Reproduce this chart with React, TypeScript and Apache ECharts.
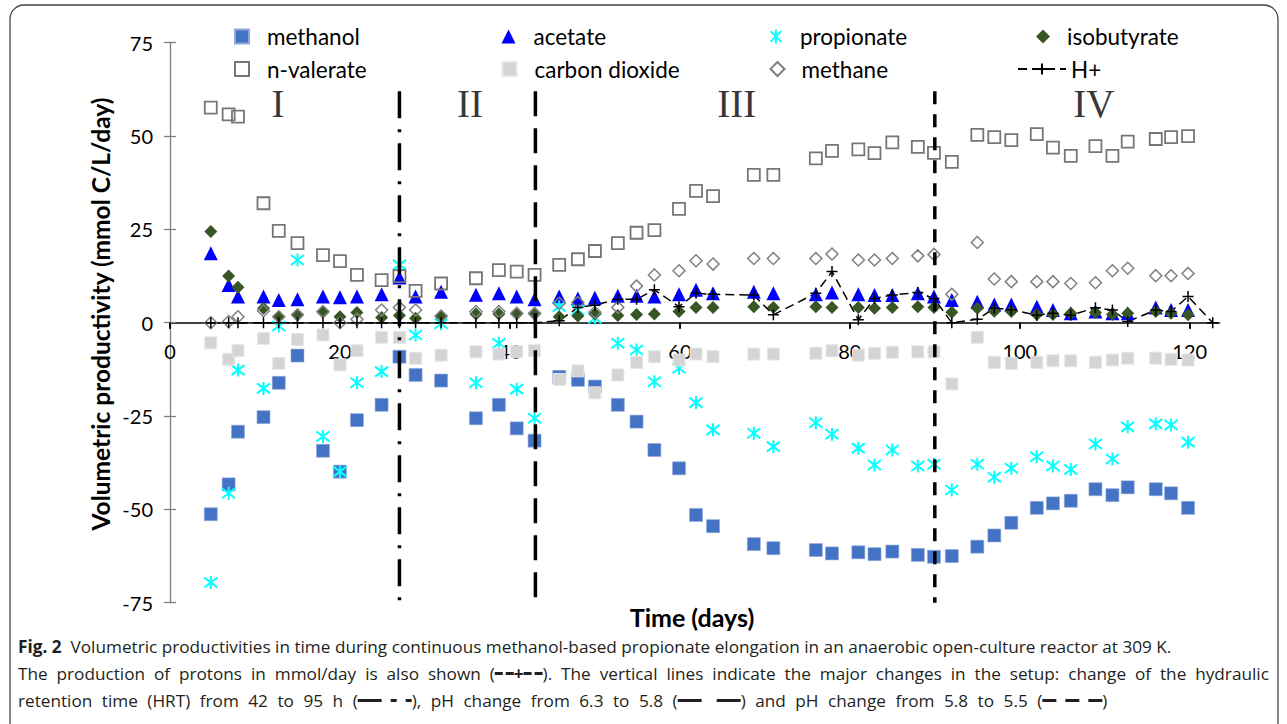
import React, { useEffect, useRef } from "react";
import * as echarts from "echarts";

// ---------- data ----------
const DAYS = [4.8, 6.9, 8, 11, 12.8, 15, 18, 20, 22, 24.9, 27, 28.9, 31.9, 36, 38.7, 40.8, 42.9, 45.8, 48, 50, 52.7, 54.9, 57, 59.9, 61.9, 63.9, 68.7, 71, 76, 77.9, 81, 82.9, 85, 88, 89.9, 92, 95, 97, 99, 102, 103.9, 106, 108.9, 110.9, 112.7, 116, 117.8, 119.8];
const METHANOL = [-51.3, -43.3, -29.2, -25.3, -16.1, -8.8, -34.3, -39.9, -26.1, -22, -9.1, -14, -15.5, -25.6, -22, -28.3, -31.6, -14.5, -15.3, -17.1, -22, -26.5, -34.1, -39, -51.5, -54.5, -59.3, -60.4, -60.9, -61.8, -61.5, -62, -61.3, -62.2, -62.7, -62.5, -60, -57, -53.6, -49.6, -48.4, -47.7, -44.6, -46.2, -44.1, -44.6, -45.7, -49.6];
const ACETATE = [18.6, 10.1, 7.0, 7.0, 6.1, 6.3, 7.0, 6.8, 7.0, 7.6, 12.1, 7.0, 8.3, 7.5, 7.9, 7.0, 6.3, 7.0, 6.5, 6.7, 7.2, 7.2, 7.0, 7.6, 8.8, 7.9, 8.3, 7.9, 7.6, 8.1, 7.6, 7.4, 7.4, 7.9, 7.0, 6.1, 5.6, 4.9, 4.9, 4.3, 3.4, 2.5, 3.0, 2.5, 2.5, 4.1, 3.4, 3.4];
const PROPIONATE = [-69.6, -45.7, -12.7, -17.6, -0.9, 16.8, -30.5, -39.9, -16.1, -13.1, 15.5, -3.3, -0.3, -16.1, -5.5, -17.8, -25.6, 4.3, 3.4, 1.2, -5.5, -7.3, -15.8, -12.2, -21.4, -28.7, -29.6, -33.2, -26.8, -29.9, -33.6, -38.1, -34.1, -38.4, -37.9, -44.8, -37.9, -41.4, -39.0, -35.9, -38.4, -39.3, -32.5, -36.5, -27.9, -27.1, -27.4, -32.0];
const ISOBUTYRATE = [24.4, 12.5, 9.5, 3.9, 1.6, 2.1, 2.8, 1.6, 2.7, 1.4, 1.9, 1.2, 1.6, 2.3, 2.3, 2.3, 2.3, 1.6, 1.8, 2.3, 1.9, 2.2, 2.3, 3.0, 4.1, 4.1, 4.3, 4.1, 4.3, 4.1, 4.1, 3.9, 4.1, 4.3, 4.1, 2.8, 3.9, 3.1, 3.0, 2.2, 2.2, 2.5, 2.7, 2.2, 2.5, 3.0, 2.5, 2.1];
const N_VALERATE = [57.6, 55.8, 55.2, 32.0, 24.6, 21.3, 18.1, 16.5, 12.8, 11.4, 12.5, 8.5, 10.5, 11.9, 14.1, 13.7, 12.8, 15.5, 17.0, 19.2, 21.3, 24.1, 24.8, 30.5, 35.3, 33.9, 39.6, 39.6, 44.0, 46.0, 46.4, 45.4, 48.3, 47.1, 45.5, 43.1, 50.3, 49.7, 48.9, 50.5, 46.9, 44.7, 47.3, 44.7, 48.5, 49.2, 49.7, 50.0];
const CARBON_DIOXIDE = [-5.4, -9.8, -7.5, -4.2, -10.9, -4.5, -3.3, -11.3, -7.5, -3.9, -3.9, -9.5, -8.7, -7.8, -8.4, -7.8, -7.5, -15.2, -12.9, -18.8, -14.0, -10.6, -9.1, -10.0, -8.4, -9.1, -8.4, -8.4, -8.2, -7.5, -8.7, -8.2, -7.9, -7.8, -7.8, -16.4, -3.9, -10.6, -10.9, -10.6, -10.2, -10.2, -10.6, -10.0, -9.5, -9.5, -9.8, -10.0];
const METHANE = [0, 0.3, 1.6, 3.2, 1.6, 2.1, 3.0, 0, 0.9, 3.4, 4.1, 3.4, 1.8, 3.0, 3.0, 2.5, 2.5, 5.2, 5.4, 2.8, 4.1, 9.8, 12.8, 13.9, 16.6, 15.7, 17.2, 17.2, 17.2, 18.4, 16.8, 16.8, 17.2, 17.9, 18.3, 7.6, 21.5, 11.7, 11.0, 11.0, 11.0, 10.5, 10.7, 13.9, 14.6, 12.6, 12.6, 13.2];
const H_DAYS = [...DAYS, 122.7];
const H_PLUS = [0, 0, 0, 0, 0, 0, 0, 0, 0, 0, 0, 0, 0, 0, 0, 0, 0, 0.5, 4.1, 4.7, 6.3, 6.3, 8.8, 4.3, 7.9, 7.6, 7.4, 2.1, 7.9, 13.7, 0.8, 6.5, 7.4, 8.1, 6.5, 0, 0.9, 3.9, 3.5, 2.0, 2.5, 2.0, 4.0, 3.4, 0.3, 3.4, 3.0, 7.0, 0];

const PHASE_CHANGE_DAYS = [27, 43, 90];
const PHASE_LINE_TOP = 62;
const PHASE_LINE_BOTTOM = -75;
const PHASE_LABELS = ["I", "II", "III", "IV"];
const PHASE_LABEL_DAYS = [12.7, 35.3, 66.7, 108.7];
const PHASE_LABEL_VALUE = 58.7;

const X_TICKS = [0, 20, 40, 60, 80, 100, 120];
const X_MAX = 123.5;
const Y_MIN = -75;
const Y_MAX = 75;
const Y_STEP = 25;

// ---------- styles ----------
const FONT = "Lato, 'Noto Sans', sans-serif";
const CAP_FONT = "'Open Sans', 'Noto Sans', sans-serif";
const CAP_COLOR = "#231F20";
const ASTERISK = "path://M1,1L11,11M11,1L1,11M6,-0.5L6,12.5";
const PLUS = "path://M6,0L6,12M0,6L12,6";

const pts = (ys: number[]) => DAYS.map((d, i) => [d, ys[i]]);

// turn plain words into rich tokens whose spaces have a given token style
const spaced = (text: string, sp: string) => "{t|" + text.split(" ").join("}{" + sp + "| }{t|") + "}";

function buildOption() {
  const scatter = (name: string, ys: number[], symbol: string, size: number, itemStyle: any) => ({
    name,
    type: "scatter",
    data: pts(ys),
    symbol,
    symbolSize: size,
    itemStyle: { opacity: 1, ...itemStyle },
    emphasis: { disabled: true },
    z: 2,
  });

  const series: any[] = [
    scatter("methanol", METHANOL, "rect", 13, { color: "#4472C4", borderColor: "#8EA9DB", borderWidth: 0.6 }),
    scatter("acetate", ACETATE, "triangle", 14, { color: "#0000FF" }),
    scatter("propionate", PROPIONATE, ASTERISK, 13, { color: "#00FFFF", borderColor: "#00FFFF", borderWidth: 2 }),
    scatter("isobutyrate", ISOBUTYRATE, "diamond", 13, { color: "#375623" }),
    scatter("n-valerate", N_VALERATE, "rect", 12, { color: "rgba(255,255,255,0)", borderColor: "#767676", borderWidth: 1.8 }),
    scatter("carbon dioxide", CARBON_DIOXIDE, "rect", 12, { color: "#D4D4D4", borderColor: "#E6E6E6", borderWidth: 1 }),
    scatter("methane", METHANE, "diamond", 12, { color: "rgba(255,255,255,0)", borderColor: "#808080", borderWidth: 1.5 }),
    {
      name: "H+",
      type: "line",
      data: H_DAYS.map((d, i) => [d, H_PLUS[i]]),
      symbol: PLUS,
      symbolSize: 11,
      showSymbol: true,
      lineStyle: { color: "#000", width: 1.5, type: [9, 5] },
      itemStyle: { color: "#000", borderColor: "#000", borderWidth: 1.5 },
      emphasis: { disabled: true },
      z: 2,
    },
  ];

  const dashes = [[27, 11, 3, 11], [25, 12], [13, 10]];
  PHASE_CHANGE_DAYS.forEach((d, i) => {
    series.push({
      name: "phase" + i,
      type: "line",
      data: [[d, PHASE_LINE_TOP], [d, PHASE_LINE_BOTTOM]],
      symbol: "none",
      lineStyle: { color: "#000", width: 3.5, type: dashes[i] },
      silent: true,
      z: 4,
    });
  });

  series.push({
    name: "phases",
    type: "scatter",
    data: PHASE_LABELS.map((t, i) => [PHASE_LABEL_DAYS[i], PHASE_LABEL_VALUE, t]),
    symbol: "circle",
    symbolSize: 1,
    itemStyle: { color: "rgba(0,0,0,0)" },
    label: {
      show: true,
      position: "inside",
      formatter: (p: any) => p.data[2],
      fontFamily: "'Liberation Serif', serif",
      fontSize: 39,
      lineHeight: 30,
      color: "#000",
    },
    silent: true,
    z: 3,
  });

  const legendItem = (name: string, left: number, top: number, pad: number, width = 14) => ({
    data: [name],
    left,
    top,
    itemWidth: width,
    itemHeight: 14,
    selectedMode: false,
    textStyle: { fontFamily: FONT, fontSize: 22.5, color: "#000", padding: [0, 0, 0, pad] },
  });

  const R1 = 20;
  const R2 = 52.5;
  const legend = [
    legendItem("methanol", 229, R1, 13),
    legendItem("acetate", 496.5, R1, 13),
    legendItem("propionate", 764.5, R1, 12),
    legendItem("isobutyrate", 1031, R1, 12),
    legendItem("n-valerate", 229, R2, 13),
    legendItem("carbon dioxide", 496.5, R2, 13),
    legendItem("methane", 764.5, R2, 12),
    legendItem("H+", 1012, R2, 0, 48),
  ];

  const capText = (size: number, bold = false) => ({
    fontFamily: CAP_FONT,
    fontSize: size,
    fontWeight: bold ? "bold" : "normal",
    fill: CAP_COLOR,
    verticalAlign: "middle",
  });
  const bar = (w: number) => ({ width: w, height: 3, backgroundColor: CAP_COLOR, verticalAlign: "middle" });
  const gap = (w: number) => ({ width: w, verticalAlign: "middle" });
  const CAP_SIZE = 17.2;
  const rich: any = {
    t: capText(CAP_SIZE),
    b: capText(CAP_SIZE, true),
    p: capText(CAP_SIZE, true),
    d: bar(8),
    L: bar(24),
    M: bar(14),
    s: bar(6),
    g2: gap(3),
    g8: gap(9),
    g12: gap(15),
    sp2: gap(8.9),
    sp3: gap(9.5),
  };
  const capLine = (text: string, y: number) => ({
    type: "text",
    left: 18,
    top: y - 12,
    silent: true,
    style: { text, rich, ...capText(CAP_SIZE) },
  });

  const line1 = "{b|Fig. 2}{t|  Volumetric productivities in time during continuous methanol-based propionate elongation in an anaerobic open-culture reactor at 309 K.}";
  const line2 =
    spaced("The production of protons in mmol/day is also shown (", "sp2") +
    "{d| }{g2| }{d| }{p|+}{d| }{g2| }{d| }" +
    spaced("). The vertical lines indicate the major changes in the setup: change of the hydraulic", "sp2");
  const line3 =
    spaced("retention time (HRT) from 42 to 95 h (", "sp3") +
    "{L| }{g8| }{s| }{g8| }{s| }" +
    spaced("), pH change from 6.3 to 5.8 (", "sp3") +
    "{L| }{g12| }{L| }" +
    spaced(") and pH change from 5.8 to 5.5 (", "sp3") +
    "{M| }{g8| }{M| }{g8| }{M| }{t|)}";

  const graphic: any[] = [
    {
      type: "rect",
      shape: { x: 10, y: 5, width: 1268, height: 745, r: 14 },
      style: { fill: "none", stroke: "#444", lineWidth: 1.3 },
      silent: true,
    },
    {
      type: "text",
      x: 692,
      y: 617,
      silent: true,
      style: {
        text: "Time (days)",
        fontFamily: FONT,
        fontSize: 25,
        fontWeight: "bold",
        fill: "#000",
        align: "center",
        verticalAlign: "middle",
      },
    },
    {
      type: "text",
      x: 100,
      y: 314,
      rotation: Math.PI / 2,
      silent: true,
      style: {
        text: "Volumetric productivity (mmol C/L/day)",
        fontFamily: FONT,
        fontSize: 24.5,
        fontWeight: "bold",
        fill: "#000",
        align: "center",
        verticalAlign: "middle",
      },
    },
    capLine(line1, 650),
    capLine(line2, 677),
    capLine(line3, 704),
  ];

  return {
    animation: false,
    backgroundColor: "#fff",
    grid: { left: 170, right: 67.5, top: 42.7, bottom: 121.3, containLabel: false },
    legend,
    graphic,
    xAxis: [
      {
        type: "value",
        min: 0,
        max: X_MAX,
        axisLine: { show: true, onZero: true, onZeroAxisIndex: 0, lineStyle: { color: "#000", width: 1.5 } },
        axisTick: { show: true, inside: false, length: 6, customValues: X_TICKS, lineStyle: { color: "#000", width: 1.5 } },
        axisLabel: { customValues: X_TICKS, color: "#000", fontFamily: FONT, fontSize: 20, margin: -262 },
        splitLine: { show: false },
      },
      {
        type: "value",
        min: 0,
        max: X_MAX,
        axisLine: { show: false, onZero: true, onZeroAxisIndex: 0 },
        axisTick: { show: true, inside: true, length: 6, customValues: X_TICKS, lineStyle: { color: "#000", width: 1.5 } },
        axisLabel: { show: false },
        splitLine: { show: false },
      },
    ],
    yAxis: [
      {
        type: "value",
        min: Y_MIN,
        max: Y_MAX,
        interval: Y_STEP,
        axisLine: { show: true, lineStyle: { color: "#7F7F7F", width: 1.3 } },
        axisTick: { show: true, inside: false, length: 6, lineStyle: { color: "#7F7F7F", width: 1.3 } },
        axisLabel: { color: "#000", fontFamily: FONT, fontSize: 20, margin: 17 },
        splitLine: { show: false },
      },
      {
        type: "value",
        min: Y_MIN,
        max: Y_MAX,
        interval: Y_STEP,
        position: "left",
        axisLine: { show: false },
        axisTick: { show: true, inside: true, length: 6, lineStyle: { color: "#7F7F7F", width: 1.3 } },
        axisLabel: { show: false },
        splitLine: { show: false },
      },
    ],
    series,
  };
}

export default function App() {
  const ref = useRef<HTMLDivElement>(null);
  useEffect(() => {
    if (!ref.current) return;
    const chart = echarts.init(ref.current, null, { renderer: "svg" });
    chart.setOption(buildOption() as any);
    return () => chart.dispose();
  }, []);
  return (
    <div
      ref={ref}
      style={{ position: "fixed", left: 0, top: 0, width: 1287, height: 724, background: "#fff" }}
    />
  );
}
